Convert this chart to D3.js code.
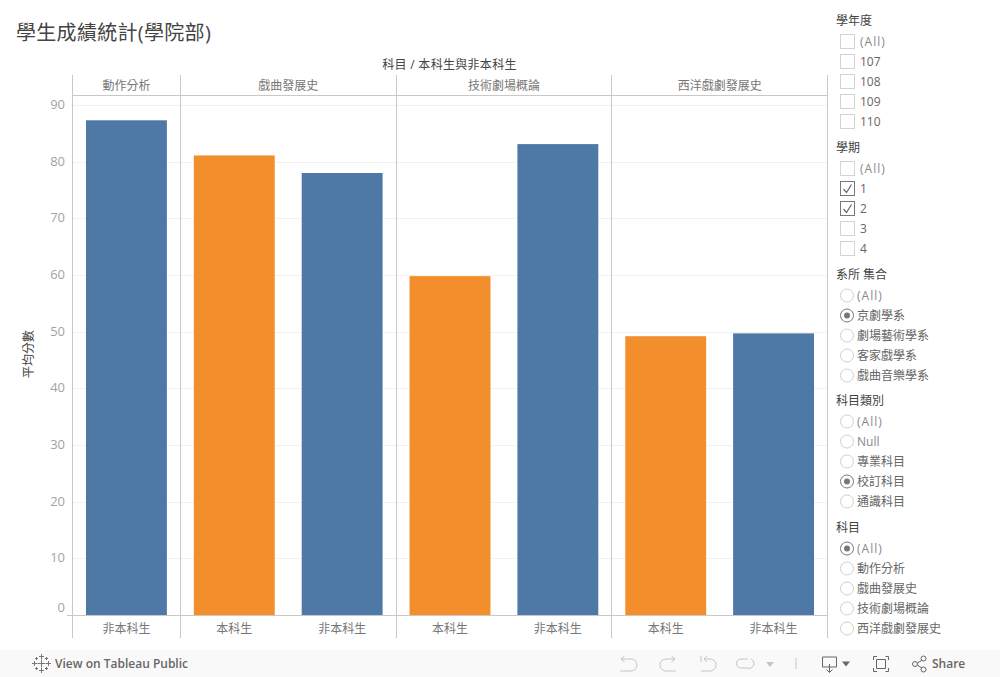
<!DOCTYPE html>
<html lang="zh-Hant">
<head>
    <meta charset="UTF-8">
    <title>學生成績統計(學院部)</title>
    <script src="https://d3js.org/d3.v7.min.js"></script>
    <style>
        html, body { margin: 0; padding: 0; background: #fff; }
        svg { display: block; }
        text { font-family: "Open Sans", "Noto Sans CJK TC", sans-serif; }
    </style>
</head>
<body>
    <svg id="chart" width="1000" height="677"></svg>

    <script>
        // Chart data
        const subjects = ["動作分析", "戲曲發展史", "技術劇場概論", "西洋戲劇發展史"];
        const barSubjects = ["動作分析", "戲曲發展史", "戲曲發展史", "技術劇場概論", "技術劇場概論", "西洋戲劇發展史", "西洋戲劇發展史"];
        const barTypes = ["非本科生", "本科生", "非本科生", "本科生", "非本科生", "本科生", "非本科生"];
        const barValues = [87.3, 81.1, 78.0, 59.8, 83.1, 49.2, 49.7];
        const yTicks = [0, 10, 20, 30, 40, 50, 60, 70, 80, 90];

        // Filter panel contents
        const yearOptions = ["(All)", "107", "108", "109", "110"];
        const termOptions = ["(All)", "1", "2", "3", "4"];
        const deptOptions = ["(All)", "京劇學系", "劇場藝術學系", "客家戲學系", "戲曲音樂學系"];
        const typeOptions = ["(All)", "Null", "專業科目", "校訂科目", "通識科目"];
        const subjectOptions = ["(All)", "動作分析", "戲曲發展史", "技術劇場概論", "西洋戲劇發展史"];

        const svg = d3.select("#chart");

        const plotLeft = 72.5, plotRight = 827.5;
        const headerTop = 75, headerBottom = 95.5, plotBottom = 615, footerBottom = 638;

        const x = d3.scaleBand()
            .domain(d3.range(barValues.length))
            .range([plotLeft, plotRight])
            .paddingInner(0.25)
            .paddingOuter(0.125);
        const y = d3.scaleLinear().domain([0, 90]).range([plotBottom, 105]);
        const color = d3.scaleOrdinal().domain(["本科生", "非本科生"]).range(["#f28e2b", "#4e79a7"]);

        // Title
        svg.append("text").attr("x", 16).attr("y", 40)
            .attr("font-size", 20).attr("letter-spacing", 0.3).attr("fill", "#444").text("學生成績統計(學院部)");

        svg.append("text").attr("x", 449.5).attr("y", 69).attr("text-anchor", "middle")
            .attr("font-size", 12).attr("letter-spacing", 0.3).attr("fill", "#444").text("科目 / 本科生與非本科生");

        // Gridlines
        svg.append("g").selectAll("line")
            .data(yTicks.filter(d => d > 0))
            .join("line")
            .attr("x1", plotLeft).attr("x2", plotRight)
            .attr("y1", d => Math.round(y(d)) + 0.5).attr("y2", d => Math.round(y(d)) + 0.5)
            .attr("stroke", "#f2f2f2");

        // Bars
        svg.append("g").selectAll("rect")
            .data(barValues)
            .join("rect")
            .attr("x", (d, i) => x(i))
            .attr("width", x.bandwidth())
            .attr("y", d => y(d))
            .attr("height", d => y(0) - y(d))
            .attr("fill", (d, i) => color(barTypes[i]));

        // Panel dividers, worked out from how many bars each subject has
        const lineColor = "#c8c8c8";
        const step = x.step();
        let edge = plotLeft;
        const panels = subjects.map(s => {
            const n = barSubjects.filter(d => d === s).length;
            const p = { subject: s, x0: edge, x1: edge + n * step };
            edge = p.x1;
            return p;
        });

        const frame = svg.append("g").attr("stroke", lineColor).attr("shape-rendering", "crispEdges");
        frame.selectAll("line.v")
            .data([plotLeft].concat(panels.map(p => p.x1)))
            .join("line").attr("class", "v")
            .attr("x1", d => d).attr("x2", d => d)
            .attr("y1", headerTop).attr("y2", footerBottom);
        frame.append("line").attr("x1", plotLeft).attr("x2", plotRight)
            .attr("y1", headerBottom).attr("y2", headerBottom);
        frame.append("line").attr("x1", 67).attr("x2", plotRight)
            .attr("y1", plotBottom + 0.5).attr("y2", plotBottom + 0.5);

        // Subject headers
        svg.append("g").selectAll("text")
            .data(panels)
            .join("text")
            .attr("x", d => (d.x0 + d.x1) / 2).attr("y", 90)
            .attr("text-anchor", "middle").attr("font-size", 12).attr("fill", "#777")
            .text(d => d.subject);

        // Student type labels under the bars
        svg.append("g").selectAll("text")
            .data(barTypes)
            .join("text")
            .attr("x", (d, i) => x(i) + x.bandwidth() / 2).attr("y", 633)
            .attr("text-anchor", "middle").attr("font-size", 12).attr("fill", "#777")
            .text(d => d);

        // Y axis labels, the 0 sits above the baseline like in Tableau
        svg.append("g").selectAll("text")
            .data(yTicks)
            .join("text")
            .attr("x", 65).attr("y", d => d === 0 ? 612 : y(d) + 4)
            .attr("text-anchor", "end").attr("font-size", 13).attr("fill", "#a3a3a3")
            .text(d => d);

        svg.append("text")
            .attr("transform", "translate(33,354) rotate(-90)")
            .attr("text-anchor", "middle").attr("font-size", 12).attr("fill", "#444")
            .text("平均分數");

        // Filter panels
        const filters = [
            { title: "學年度", options: yearOptions, kind: "check", selected: [], top: 25 },
            { title: "學期", options: termOptions, kind: "check", selected: ["1", "2"], top: 152 },
            { title: "系所 集合", options: deptOptions, kind: "radio", selected: ["京劇學系"], top: 279 },
            { title: "科目類別", options: typeOptions, kind: "radio", selected: ["校訂科目"], top: 405 },
            { title: "科目", options: subjectOptions, kind: "radio", selected: ["(All)"], top: 532 }
        ];

        filters.forEach(f => {
            const g = svg.append("g");
            g.append("text").attr("x", 836).attr("y", f.top)
                .attr("font-size", 12).attr("fill", "#444").text(f.title);

            const rows = g.selectAll("g.row")
                .data(f.options)
                .join("g").attr("class", "row")
                .attr("transform", (d, i) => `translate(0,${f.top + 16 + i * 20})`);

            if (f.kind === "check") {
                rows.append("rect")
                    .attr("x", 840.5).attr("y", -6.5).attr("width", 14).attr("height", 14)
                    .attr("fill", "#fff")
                    .attr("stroke", d => f.selected.includes(d) ? "#777" : "#d4d4d4");
                rows.filter(d => f.selected.includes(d)).append("path")
                    .attr("d", "M843.5 1 L846.5 4.5 L851.5 -3.5")
                    .attr("fill", "none").attr("stroke", "#666").attr("stroke-width", 1.2);
            } else {
                rows.append("circle")
                    .attr("cx", 847).attr("cy", 0.5).attr("r", 6.5)
                    .attr("fill", "#fff")
                    .attr("stroke", d => f.selected.includes(d) ? "#777" : "#d0d0d0");
                rows.filter(d => f.selected.includes(d)).append("circle")
                    .attr("cx", 847).attr("cy", 0.5).attr("r", 3).attr("fill", "#777");
            }

            rows.append("text")
                .attr("x", f.kind === "check" ? 860 : 857).attr("y", 4.5)
                .attr("font-size", 12)
                .attr("letter-spacing", d => d === "(All)" ? 1 : 0)
                .attr("fill", d => d === "(All)" || d === "Null" ? "#888" : "#666")
                .text(d => d);
        });

        // Toolbar
        const bar = svg.append("g");
        bar.append("rect").attr("x", 0).attr("y", 650).attr("width", 1000).attr("height", 27).attr("fill", "#f9f9f9");

        // Tableau logo
        const logo = bar.append("g").attr("stroke", "#777").attr("stroke-width", 1).attr("fill", "none");
        [[41.5, 663.5, 4], [41.5, 656.5, 2.5], [41.5, 670.5, 2.5], [34.5, 663.5, 2.5], [48.5, 663.5, 2.5],
         [36.5, 658.5, 1.5], [46.5, 658.5, 1.5], [36.5, 668.5, 1.5], [46.5, 668.5, 1.5]].forEach(([cx, cy, r]) => {
            logo.append("path").attr("d", `M${cx - r} ${cy}H${cx + r}M${cx} ${cy - r}V${cy + r}`);
        });
        bar.append("text").attr("x", 55).attr("y", 668)
            .attr("font-size", 12).attr("font-weight", 600).attr("fill", "#666").text("View on Tableau Public");

        const icons = bar.append("g").attr("fill", "none");
        const faint = "#c4c4c4", dark = "#666";
        [
            ["M621 659H631A5.5 5.5 0 0 1 631 671H620M621 659L624.5 656M621 659L624.5 662", faint],
            ["M675 659H666A5.5 5.5 0 0 0 666 671H676M675 659L671.5 656M675 659L671.5 662", faint],
            ["M701 656V662M704 659H710A5.5 5.5 0 0 1 710 671H701M704 659L707 656M704 659L707 662", faint],
            ["M748 659H741A4 4 0 0 0 741 668H747A4 4 0 0 0 751 659", faint],
            ["M796 658V669", faint],
            ["M822.5 657H836.5V667H822.5ZM829.5 664V672M826.5 669.5L829.5 672.5L832.5 669.5", dark],
            ["M873.5 660V656.5H877M885.5 656.5H888.5V660M888.5 668V671.5H885.5M877 671.5H873.5V668M876.5 659.5H885.5V668.5H876.5Z", dark],
            ["M916 664L923 659.5M916 664L923 669", dark]
        ].forEach(([d, c]) => icons.append("path").attr("d", d).attr("stroke", c));

        [[915, 664], [923.5, 658.5], [923.5, 669.5]].forEach(([cx, cy]) => {
            icons.append("circle").attr("cx", cx).attr("cy", cy).attr("r", 2.5).attr("stroke", dark).attr("fill", "#f9f9f9");
        });

        bar.append("path").attr("d", "M766 662H774L770 667Z").attr("fill", faint);
        bar.append("path").attr("d", "M842 661.5H850L846 666.5Z").attr("fill", dark);
        bar.append("text").attr("x", 932).attr("y", 668)
            .attr("font-size", 12).attr("font-weight", 600).attr("fill", "#666").text("Share");
    </script>
</body>
</html>
